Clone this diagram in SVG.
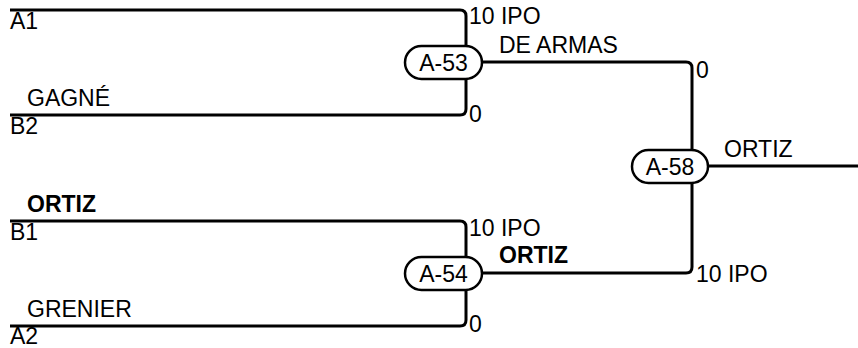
<svg xmlns="http://www.w3.org/2000/svg" width="858" height="348" viewBox="0 0 858 348">
<style>
text{font-family:"Liberation Sans",Arial,sans-serif;font-size:23px;fill:#000}
.b{font-weight:bold}
.m{text-anchor:middle}
.ln{fill:none;stroke:#000;stroke-width:3}
.pill{fill:#fff;stroke:#000;stroke-width:2.5}
</style>
<rect width="858" height="348" fill="#fff"/>
<g id="connectors">
<path class="ln" d="M10,10 H460 Q466,10 466,16 V109 Q466,115 460,115 H10"/>
<path class="ln" d="M10,221 H460 Q466,221 466,227 V320 Q466,326 460,326 H10"/>
<path class="ln" d="M482,62 H686 Q692,62 692,68 V267 Q692,273 686,273 H482"/>
<path class="ln" d="M708,166 H858"/>
</g>
<g id="labels">
<text x="10" y="29">A1</text>
<text x="27" y="106">GAGNÉ</text>
<text x="10" y="134">B2</text>
<text x="27" y="212" class="b">ORTIZ</text>
<text x="10" y="240">B1</text>
<text x="27" y="317">GRENIER</text>
<text x="10" y="344">A2</text>
<text x="469" y="24">10 IPO</text>
<text x="469" y="122">0</text>
<text x="499" y="53">DE ARMAS</text>
<text x="696" y="78">0</text>
<text x="724" y="157">ORTIZ</text>
<text x="469" y="236">10 IPO</text>
<text x="499" y="263" class="b">ORTIZ</text>
<text x="469" y="332">0</text>
<text x="696" y="282">10 IPO</text>
</g>
<g id="A-53"><rect class="pill" x="405" y="46" width="77" height="33" rx="16.5"/><text x="443.5" y="71" class="m">A-53</text></g>
<g id="A-54"><rect class="pill" x="405" y="257" width="77" height="33" rx="16.5"/><text x="443.5" y="282" class="m">A-54</text></g>
<g id="A-58"><rect class="pill" x="632" y="150" width="76" height="33" rx="16.5"/><text x="670" y="175" class="m">A-58</text></g>
</svg>
